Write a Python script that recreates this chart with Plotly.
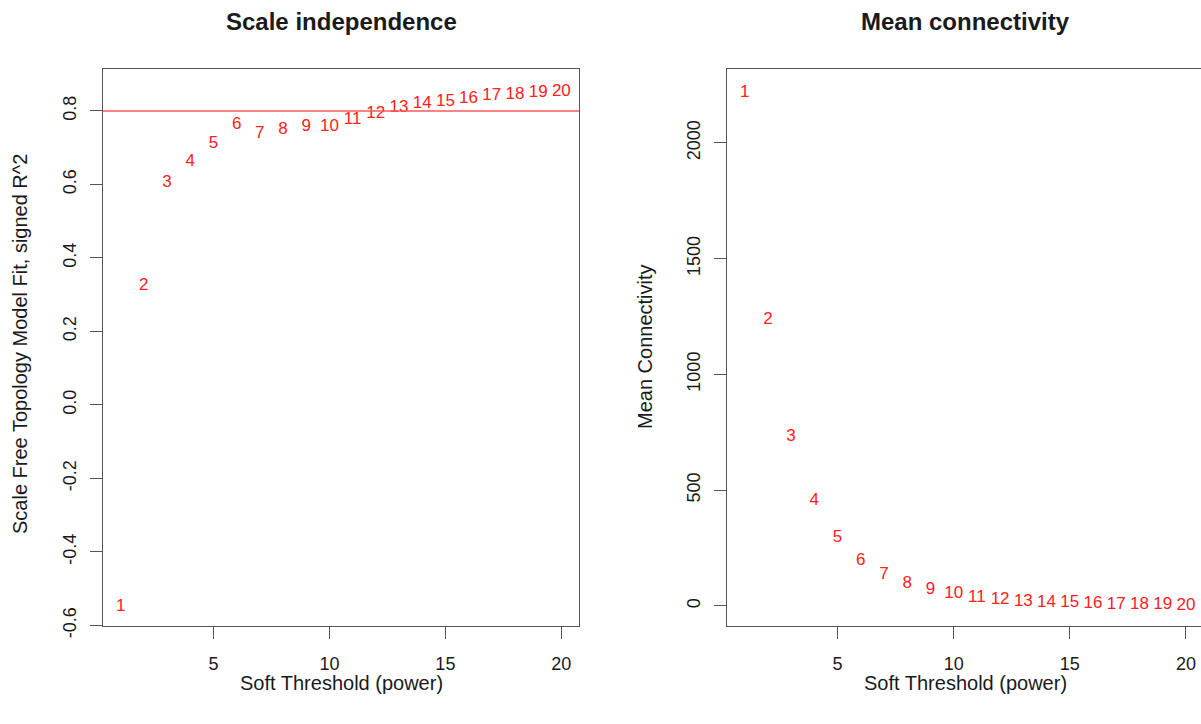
import plotly.graph_objects as go

W, H = 1201, 724

powers = list(range(1, 21))
sft_signed_r2 = [-0.548, 0.325, 0.604, 0.661, 0.711, 0.761, 0.738, 0.750, 0.758, 0.756,
                 0.775, 0.793, 0.808, 0.820, 0.826, 0.832, 0.840, 0.845, 0.850, 0.852]
mean_k = [2217, 1236, 730, 454, 292, 195, 134, 95, 69, 52,
          33, 26, 19, 14, 12, 9, 6, 4, 3, 2]
r2_cut = 0.8

x_ticks = [5, 10, 15, 20]
y1_ticks = [-0.6, -0.4, -0.2, 0.0, 0.2, 0.4, 0.6, 0.8]
y1_ticktext = ["-0.6", "-0.4", "-0.2", "0.0", "0.2", "0.4", "0.6", "0.8"]
y2_ticks = [0, 500, 1000, 1500, 2000]
y2_ticktext = ["0", "500", "1000", "1500", "2000"]

FONT = "Liberation Sans, Arial, Helvetica, sans-serif"
AX = "#555555"
TXT = "#1a1a1a"

def px_x(p):
    return p / W

def px_y(p):
    return 1 - p / H

fig = go.Figure()
fig.add_trace(go.Scatter(
    x=powers, y=sft_signed_r2, mode="text", text=[str(p) for p in powers],
    textposition="middle center", textfont=dict(color="#ff2020", size=17, family=FONT),
    xaxis="x", yaxis="y", hoverinfo="skip", showlegend=False))
fig.add_trace(go.Scatter(
    x=powers, y=mean_k, mode="text", text=[str(p) for p in powers],
    textposition="middle center", textfont=dict(color="#ff2020", size=17, family=FONT),
    xaxis="x2", yaxis="y2", hoverinfo="skip", showlegend=False))

fig.add_shape(type="line", xref="x domain", yref="y", x0=0, x1=1, y0=r2_cut, y1=r2_cut,
              line=dict(color="#ff5a5a", width=1.5))

ydom = [px_y(625.5), px_y(69)]
common_x = dict(tickmode="array", tickvals=x_ticks, ticks="outside", ticklen=12, tickwidth=1.3,
                tickcolor=AX, showline=True, linecolor=AX, linewidth=1.3, showgrid=False,
                zeroline=False, tickfont=dict(size=18, family=FONT, color=TXT), automargin=False,
                ticklabelstandoff=10)
common_y = dict(tickmode="array", ticks="outside", ticklen=12, tickwidth=1.3, tickcolor=AX,
                showline=True, linecolor=AX, linewidth=1.3, showgrid=False, zeroline=False,
                tickangle=-90, tickfont=dict(size=18, family=FONT, color=TXT), domain=ydom,
                automargin=False, ticklabelstandoff=7)

fig.update_layout(
    template="none",
    width=W, height=H, margin=dict(l=0, r=0, t=0, b=0, autoexpand=False),
    paper_bgcolor="white", plot_bgcolor="white", showlegend=False,
    xaxis=dict(common_x, domain=[px_x(103), px_x(579)], range=[0.24, 20.76], anchor="y", mirror=True),
    yaxis=dict(common_y, tickvals=y1_ticks, ticktext=y1_ticktext, range=[-0.6, 0.914], anchor="x", mirror=True),
    xaxis2=dict(common_x, domain=[px_x(727), 1.0], range=[0.24, 20.65], anchor="y2", mirror=True),
    yaxis2=dict(common_y, tickvals=y2_ticks, ticktext=y2_ticktext, range=[-85, 2319], anchor="x2"),
)

anns = [
    ("Scale independence", 341, 22, 0, 24, True),
    ("Mean connectivity", 965, 22, 0, 24, True),
    ("Soft Threshold (power)", 341, 683, 0, 20, False),
    ("Soft Threshold (power)", 965, 683, 0, 20, False),
    ("Scale Free Topology Model Fit, signed R^2", 20, 344, -90, 20, False),
    ("Mean Connectivity", 645, 347, -90, 20, False),
]
for text, x, y, ang, size, bold in anns:
    fig.add_annotation(text=f"<b>{text}</b>" if bold else text, xref="paper", yref="paper",
                       x=px_x(x), y=px_y(y), xanchor="center", yanchor="middle",
                       showarrow=False, textangle=ang,
                       font=dict(size=size, family=FONT, color=TXT))

fig.write_html("out.html")
